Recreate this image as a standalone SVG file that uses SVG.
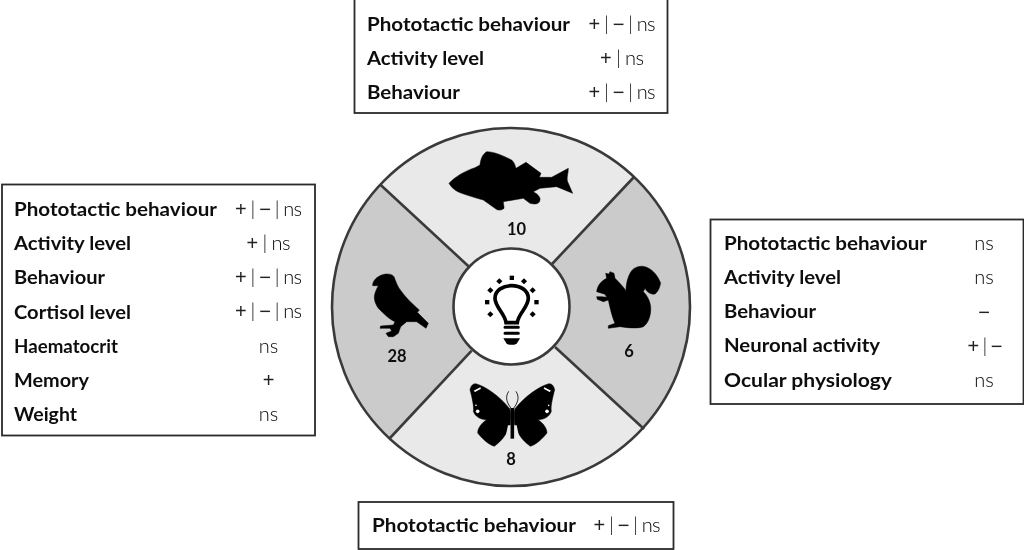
<svg xmlns="http://www.w3.org/2000/svg" width="1024" height="550" viewBox="0 0 1024 550">
<defs><filter id="soft" x="-5%" y="-20%" width="110%" height="140%"><feGaussianBlur stdDeviation="0.28"/></filter></defs>
<style>
.box{fill:#fff;stroke:#2a2a2a;stroke-width:1.8}
.l{font-family:"Lato","Liberation Sans",sans-serif;font-weight:700;font-size:18.5px;fill:#111;filter:url(#soft)}
.v{font-family:"Lato","Liberation Sans",sans-serif;font-weight:300;font-size:20px;fill:#000;text-anchor:middle;filter:url(#soft)}
.s{font-family:"Liberation Sans",sans-serif;font-weight:400;font-size:20px;fill:#222}
.n{font-family:"Lato","Liberation Sans",sans-serif;font-weight:700;font-size:16.5px;fill:#111;text-anchor:middle;filter:url(#soft)}
.ring{stroke:#3a3a3a;stroke-width:2.6;fill:none}
.dark{fill:#cbcbcb}.light{fill:#e9e9e9}
.sil{fill:#000;stroke:#000;stroke-width:1.5;stroke-linejoin:round}
</style>
<rect width="1024" height="550" fill="#fff"/>
<g id="wheel">
<path id="sector-top" class="light" d="M380.700 185A179 179 0 0 1 634 177L511 307Z"/>
<path id="sector-right" class="dark" d="M634 177A179 179 0 0 1 644 429L511 307Z"/>
<path id="sector-bottom" class="light" d="M644 429A179 179 0 0 1 390 438L511 307Z"/>
<path id="sector-left" class="dark" d="M390 438A179 179 0 0 1 380.700 185L511 307Z"/>
<circle class="ring" cx="511" cy="307" r="179"/>
</g>
<g id="connectors" class="ring">
<path d="M380.700 185L469 266.700"/>
<path d="M634 177L552 264"/>
<path d="M644 429L555 347"/>
<path d="M390 438L471.700 350.700"/>
</g>
<g id="fish"><path class="sil" transform="translate(440 145) scale(.3333)" d="M27 115C45 95 75 78 105 68L120 60C122 45 125 30 140 20C165 20 195 35 215 45C225 55 225 62 228 70L258 52L303 85L298 97H335L385 70C385 85 380 95 382 108L398 145L350 125L300 130L280 140C290 145 302 155 300 165C298 175 290 180 270 175L250 160L190 170C190 180 195 190 190 192C180 198 170 195 165 190L130 165C110 160 85 152 65 145C50 140 35 130 27 115Z"/><text class="n" x="516.500" y="235">10</text></g>
<g id="bird"><path class="sil" transform="translate(360 265) scale(.3333)" d="M38 62C38 50 45 40 60 32C75 25 95 25 102 35C108 50 112 65 125 80C140 100 155 115 178 135L172 142L205 175L198 190L170 170H140L122 185L115 205L100 215H85L78 205L95 198L90 190H60L62 183L100 180L105 170C90 165 70 145 55 130C45 115 40 100 45 85C48 75 52 68 55 62Z"/><text class="n" x="397" y="362">28</text></g>
<g id="squirrel"><path class="sil" transform="translate(590 260) scale(.3333)" d="M20 95C22 80 30 65 50 55L47 40L57 42L60 35L72 40L75 55C85 65 100 80 108 92C108 75 112 50 125 32C135 20 155 15 170 22C190 30 205 50 212 70C208 85 205 95 195 102C182 105 170 95 165 85L160 95C170 105 180 120 182 140C184 165 175 190 160 200C150 205 120 205 90 200L55 205V197L75 190C68 175 60 145 55 120L40 125L22 118L20 110L35 110L50 112L45 103Z"/><text class="n" x="629" y="357">6</text></g>
<g id="butterfly">
<g transform="translate(465 378) scale(.3333)">
<path class="sil" d="M15 35C18 22 25 15 35 18C60 25 105 55 134 92C138 102 136 125 135 140C130 160 115 185 88 205C70 200 50 180 38 165C38 150 50 135 65 125C45 125 30 115 25 100C28 85 20 55 15 35Z"/>
<path class="sil" d="M269 35C266 22 259 15 249 18C224 25 179 55 150 92C146 102 148 125 149 140C154 160 169 185 196 205C214 200 234 180 246 165C246 150 234 135 219 125C239 125 254 115 259 100C256 85 264 55 269 35Z"/>
<path fill="#000" d="M136 90H148V182H136Z"/>
<path fill="#e9e9e9" d="M129 142L136 142V182H131L122 175ZM155 142H148V182H153L162 175Z"/>
<path fill="none" stroke="#000" stroke-width="2.500" d="M140 93C128 78 118 60 131 40M144 93C156 78 166 60 153 40"/>
<g fill="#fff"><circle cx="38" cy="100" r="5.500"/><circle cx="33" cy="82" r="2.500"/><circle cx="246" cy="100" r="5.500"/><circle cx="251" cy="82" r="2.500"/><path d="M26 38L46 28L48 32L30 42ZM258 38L238 28L236 32L254 42Z"/></g>
</g>
<text class="n" x="511" y="465">8</text>
</g>
<g id="hub">
<circle cx="511.500" cy="306.500" r="58" fill="#fff" stroke="#3a3a3a" stroke-width="2.600"/>
<g transform="translate(475 270) scale(.3333)">
<path fill="none" stroke="#000" stroke-width="11" d="M93 158C90 130 60 112 60 85C60 60 85 47 110 47C135 47 160 60 160 85C160 112 130 130 127 158Z"/>
<path stroke="#000" stroke-width="9" stroke-linecap="round" d="M90 172H130M90 190H130"/>
<path fill="#000" d="M85 205H135L125 221Q110 228 95 221Z"/>
<g fill="#000"><rect x="104" y="17" width="13" height="13"/><rect x="178" y="90" width="13" height="13"/><rect x="30" y="90" width="13" height="13"/>
<rect x="67" y="27" width="13" height="13" transform="rotate(45 73 33)"/><rect x="141" y="27" width="13" height="13" transform="rotate(45 147 33)"/><rect x="40" y="54" width="13" height="13" transform="rotate(45 46 60)"/><rect x="167" y="54" width="13" height="13" transform="rotate(45 173 60)"/><rect x="40" y="126" width="13" height="13" transform="rotate(45 46 132)"/><rect x="167" y="126" width="13" height="13" transform="rotate(45 173 132)"/></g>
</g>
</g>
<g id="box-top">
<rect class="box" x="354.500" y="-1" width="313" height="114"/>
<text class="l" x="367" y="31" textLength="203" lengthAdjust="spacingAndGlyphs">Phototactic behaviour</text><text class="v" x="622" y="31" textLength="67"><tspan class="s">+</tspan> | <tspan class="s">−</tspan> | ns</text>
<text class="l" x="367" y="65" textLength="117" lengthAdjust="spacingAndGlyphs">Activity level</text><text class="v" x="622" y="65" textLength="44"><tspan class="s">+</tspan> | ns</text>
<text class="l" x="367" y="99" textLength="93" lengthAdjust="spacingAndGlyphs">Behaviour</text><text class="v" x="622" y="99" textLength="67"><tspan class="s">+</tspan> | <tspan class="s">−</tspan> | ns</text>
</g>
<g id="box-left">
<rect class="box" x="2" y="184.500" width="313" height="251"/>
<text class="l" x="14" y="216" textLength="203" lengthAdjust="spacingAndGlyphs">Phototactic behaviour</text><text class="v" x="268.500" y="216" textLength="67"><tspan class="s">+</tspan> | <tspan class="s">−</tspan> | ns</text>
<text class="l" x="14" y="250" textLength="117" lengthAdjust="spacingAndGlyphs">Activity level</text><text class="v" x="268.500" y="250" textLength="44"><tspan class="s">+</tspan> | ns</text>
<text class="l" x="14" y="284" textLength="91" lengthAdjust="spacingAndGlyphs">Behaviour</text><text class="v" x="268.500" y="284" textLength="67"><tspan class="s">+</tspan> | <tspan class="s">−</tspan> | ns</text>
<text class="l" x="14" y="319" textLength="117" lengthAdjust="spacingAndGlyphs">Cortisol level</text><text class="v" x="268.500" y="318" textLength="67"><tspan class="s">+</tspan> | <tspan class="s">−</tspan> | ns</text>
<text class="l" x="14" y="353" textLength="104" lengthAdjust="spacingAndGlyphs">Haematocrit</text><text class="v" x="268.500" y="353">ns</text>
<text class="l" x="14" y="387" textLength="75" lengthAdjust="spacingAndGlyphs">Memory</text><text class="v" x="268.500" y="387"><tspan class="s">+</tspan></text>
<text class="l" x="14" y="421" textLength="63" lengthAdjust="spacingAndGlyphs">Weight</text><text class="v" x="268.500" y="421">ns</text>
</g>
<g id="box-right">
<rect class="box" x="710.500" y="219.500" width="313" height="184.500"/>
<text class="l" x="724" y="250" textLength="203" lengthAdjust="spacingAndGlyphs">Phototactic behaviour</text><text class="v" x="984" y="250">ns</text>
<text class="l" x="724" y="284" textLength="117" lengthAdjust="spacingAndGlyphs">Activity level</text><text class="v" x="984" y="284">ns</text>
<text class="l" x="724" y="318" textLength="92" lengthAdjust="spacingAndGlyphs">Behaviour</text><text class="v" x="984" y="319"><tspan class="s">−</tspan></text>
<text class="l" x="724" y="352" textLength="156" lengthAdjust="spacingAndGlyphs">Neuronal activity</text><text class="v" x="985" y="353" textLength="35"><tspan class="s">+</tspan> | <tspan class="s">−</tspan></text>
<text class="l" x="724" y="387" textLength="168" lengthAdjust="spacingAndGlyphs">Ocular physiology</text><text class="v" x="984" y="387">ns</text>
</g>
<g id="box-bottom">
<rect class="box" x="358.500" y="502" width="315" height="47"/>
<text class="l" x="372" y="532" textLength="204" lengthAdjust="spacingAndGlyphs">Phototactic behaviour</text><text class="v" x="627" y="532" textLength="67"><tspan class="s">+</tspan> | <tspan class="s">−</tspan> | ns</text>
</g>
</svg>
